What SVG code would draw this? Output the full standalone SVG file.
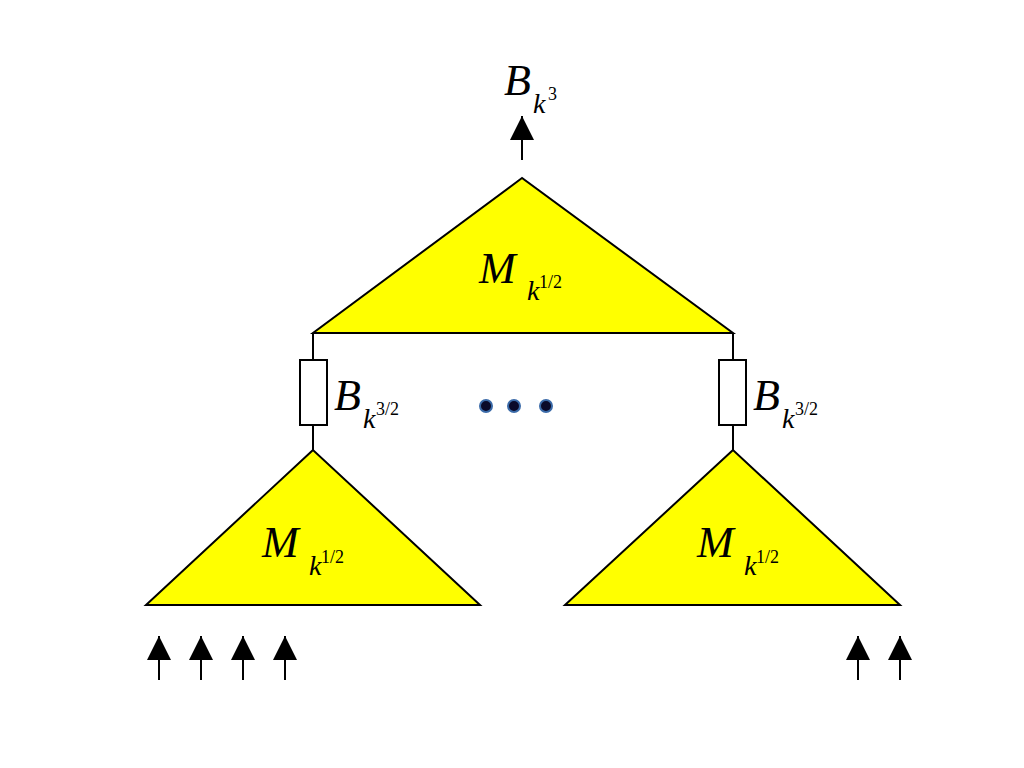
<svg xmlns="http://www.w3.org/2000/svg" width="1024" height="768" viewBox="0 0 1024 768">
<style>
.tri{fill:#ffff00;stroke:#000;stroke-width:2}
.ln{stroke:#000;stroke-width:2;fill:none}
.box{fill:#fff;stroke:#000;stroke-width:2}
.big{font-family:"Liberation Serif",serif;font-style:italic;font-size:44px}
.k{font-family:"Liberation Serif",serif;font-style:italic;font-size:28px}
.sup{font-family:"Liberation Serif",serif;font-size:18px}
.dot{fill:#0a0a2a;stroke:#3a6aa8;stroke-width:2}
</style>
<defs>
<marker id="ah" markerWidth="26" markerHeight="24" refX="24" refY="12" orient="auto" markerUnits="userSpaceOnUse">
<path d="M0,0 L24,12 L0,24 Z" fill="#000"/>
</marker>
</defs>
<g id="connectors">
<line class="ln" x1="522" y1="160" x2="522" y2="116" marker-end="url(#ah)"/>
<line class="ln" x1="313" y1="333" x2="313" y2="360"/>
<line class="ln" x1="313" y1="425" x2="313" y2="450"/>
<line class="ln" x1="733" y1="333" x2="733" y2="360"/>
<line class="ln" x1="733" y1="425" x2="733" y2="450"/>
<line class="ln" x1="159" y1="680" x2="159" y2="636" marker-end="url(#ah)"/>
<line class="ln" x1="201" y1="680" x2="201" y2="636" marker-end="url(#ah)"/>
<line class="ln" x1="243" y1="680" x2="243" y2="636" marker-end="url(#ah)"/>
<line class="ln" x1="285" y1="680" x2="285" y2="636" marker-end="url(#ah)"/>
<line class="ln" x1="858" y1="680" x2="858" y2="636" marker-end="url(#ah)"/>
<line class="ln" x1="900" y1="680" x2="900" y2="636" marker-end="url(#ah)"/>
</g>
<g id="out-label">
<text class="big" x="504" y="95">B</text><text class="k" x="533" y="113">k</text><text class="sup" x="548" y="100">3</text>
</g>
<g id="top-tri">
<polygon class="tri" points="522,178 313,333 733,333"/>
<text class="big" x="479" y="283">M</text><text class="k" x="527" y="300">k</text><text class="sup" x="539" y="288">1/2</text>
</g>
<g id="buf-left">
<rect class="box" x="300" y="360" width="27" height="65"/>
<text class="big" x="334" y="410">B</text><text class="k" x="363" y="428">k</text><text class="sup" x="376" y="415">3/2</text>
</g>
<g id="buf-right">
<rect class="box" x="719" y="360" width="27" height="65"/>
<text class="big" x="753" y="410">B</text><text class="k" x="782" y="428">k</text><text class="sup" x="795" y="415">3/2</text>
</g>
<g id="dots">
<circle class="dot" cx="486" cy="406" r="6"/><circle class="dot" cx="514" cy="406" r="6"/><circle class="dot" cx="546" cy="406" r="6"/>
</g>
<g id="left-tri">
<polygon class="tri" points="313,450 146,605 480,605"/>
<text class="big" x="262" y="557">M</text><text class="k" x="309" y="575">k</text><text class="sup" x="321" y="563">1/2</text>
</g>
<g id="right-tri">
<polygon class="tri" points="733,450 565,605 900,605"/>
<text class="big" x="697" y="557">M</text><text class="k" x="744" y="575">k</text><text class="sup" x="756" y="563">1/2</text>
</g>
</svg>
